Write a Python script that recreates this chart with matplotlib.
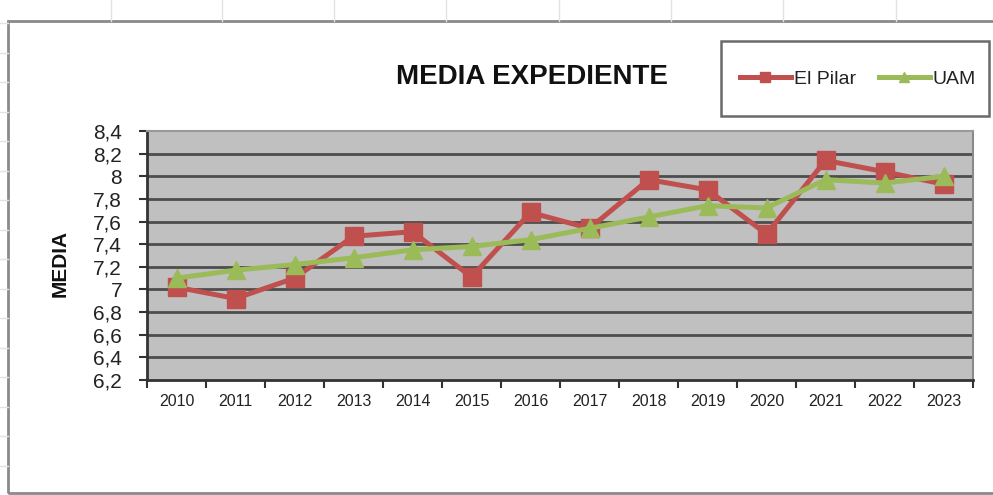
import matplotlib
matplotlib.use('Agg')
import matplotlib.pyplot as plt
from matplotlib.patches import Rectangle
from matplotlib.lines import Line2D
from matplotlib.ticker import FixedLocator, FuncFormatter, NullFormatter

# data
years = ['2010', '2011', '2012', '2013', '2014', '2015', '2016',
         '2017', '2018', '2019', '2020', '2021', '2022', '2023']
el_pilar = [7.02, 6.92, 7.10, 7.47, 7.51, 7.11, 7.68,
            7.54, 7.97, 7.88, 7.49, 8.14, 8.04, 7.93]
uam = [7.10, 7.17, 7.22, 7.28, 7.35, 7.38, 7.44,
       7.54, 7.64, 7.74, 7.72, 7.97, 7.94, 8.00]
y_ticks = [6.2, 6.4, 6.6, 6.8, 7.0, 7.2, 7.4, 7.6, 7.8, 8.0, 8.2, 8.4]

plt.rcParams['font.family'] = ['Liberation Sans', 'DejaVu Sans']

W, H = 993, 495
fig = plt.figure(figsize=(W / 100, H / 100), dpi=100)

def fx(px):
    return px / W

def fy(py):
    return 1 - py / H

# spreadsheet cells behind the chart
for gx in [111, 222, 334, 446, 559, 671, 783, 896]:
    fig.add_artist(Line2D([fx(gx), fx(gx)], [fy(0), fy(21)], color='#e2e2e2', lw=1))
for gy in [23, 53, 82, 112, 141, 171, 200, 230, 259, 289, 318, 348, 377, 407, 436, 466]:
    fig.add_artist(Line2D([0, fx(8)], [fy(gy), fy(gy)], color='#e2e2e2', lw=1))

# chart frame
fig.add_artist(Rectangle((fx(8), fy(493)), fx(1010 - 8), fy(21) - fy(493),
                         transform=fig.transFigure, fill=False,
                         edgecolor='#8a8a8a', lw=2))

ax = fig.add_axes([fx(147), fy(380), fx(973 - 147), fy(131) - fy(380)])
ax.set_facecolor('#c0c0c0')

x = list(range(len(years)))
ax.plot(x, el_pilar, color='#c0504d', lw=3.6, marker='s', markersize=12.5,
        label='El Pilar', zorder=3)
ax.plot(x, uam, color='#9bbb59', lw=3.6, marker='^', markersize=12.5,
        label='UAM', zorder=4)

ax.set_xlim(-0.5, len(years) - 0.5)
ax.set_ylim(6.2, 8.4)

# category axis: ticks between categories, labels on the centres
ax.xaxis.set_major_locator(FixedLocator([i - 0.5 for i in range(len(years) + 1)]))
ax.xaxis.set_major_formatter(NullFormatter())
ax.xaxis.set_minor_locator(FixedLocator(x))
ax.xaxis.set_minor_formatter(FuncFormatter(lambda v, p: years[int(round(v))]))
ax.tick_params(axis='x', which='major', direction='out', length=6, width=1.5, color='#333333')
ax.tick_params(axis='x', which='minor', length=0, pad=10, labelsize=11.5, labelcolor='#222222')

ax.set_yticks(y_ticks)
ax.yaxis.set_major_formatter(FuncFormatter(lambda v, p: ('%g' % round(v, 1)).replace('.', ',')))
ax.tick_params(axis='y', direction='out', length=6, width=1.5, color='#333333',
               labelsize=15, pad=12, labelcolor='#222222')

for t in y_ticks[1:-1]:
    ax.axhline(t, color='#4d4d4d', lw=2, zorder=1)

ax.spines['left'].set_color('#333333')
ax.spines['left'].set_linewidth(2)
ax.spines['bottom'].set_color('#333333')
ax.spines['bottom'].set_linewidth(2)
ax.spines['top'].set_color('#9a9a9a')
ax.spines['top'].set_linewidth(1.5)
ax.spines['right'].set_color('#8a8a8a')
ax.spines['right'].set_linewidth(1.5)

fig.text(fx(532), fy(77), 'MEDIA EXPEDIENTE', ha='center', va='center',
         fontsize=20, fontweight='bold', color='#111111')
fig.text(fx(60), fy(263), 'MEDIA', ha='center', va='center', rotation=90,
         fontsize=15, fontweight='bold', color='#111111')

# legend box
fig.add_artist(Rectangle((fx(721), fy(116)), fx(989 - 721), fy(41) - fy(116),
                         transform=fig.transFigure, fill=False,
                         edgecolor='#6a6a6a', lw=1.8))
fig.legend(loc='center', bbox_to_anchor=(fx(858), fy(79)), ncol=2, frameon=False,
           fontsize=14, handlelength=2.6, handletextpad=0.15, columnspacing=1.2,
           markerscale=0.6, labelcolor='#222222')

fig.savefig('out.png', dpi=100)
